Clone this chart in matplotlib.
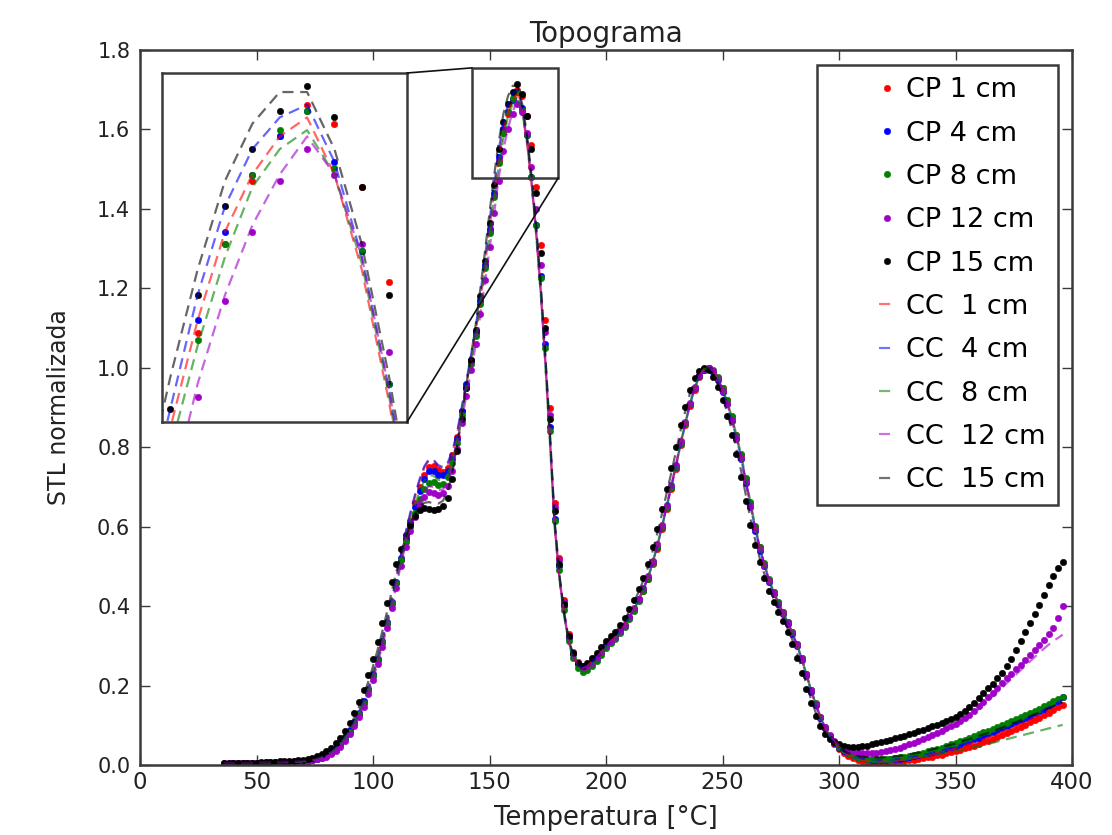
import numpy as np
import matplotlib
matplotlib.use("Agg")
import matplotlib.pyplot as plt
from matplotlib.patches import Rectangle, ConnectionPatch
from matplotlib.lines import Line2D
from matplotlib.legend_handler import HandlerLine2D

# Temperature sampling grid [°C]
temperatura = np.arange(36, 398, 2)

# Normalised TL signal, measured (CP) series
cp_1cm = [
    0.002, 0.003, 0.003, 0.004, 0.004, 0.004, 0.005, 0.005, 0.006, 0.006,
    0.006, 0.007, 0.007, 0.007, 0.008, 0.008, 0.009, 0.010, 0.011, 0.012,
    0.015, 0.019, 0.024, 0.031, 0.040, 0.052, 0.067, 0.085, 0.105, 0.129,
    0.156, 0.188, 0.224, 0.264, 0.308, 0.356, 0.406, 0.458, 0.515, 0.568,
    0.615, 0.660, 0.700, 0.730, 0.750, 0.752, 0.742, 0.738, 0.748, 0.780,
    0.825, 0.890, 0.955, 1.015, 1.085, 1.165, 1.255, 1.345, 1.435, 1.520,
    1.590, 1.640, 1.675, 1.700, 1.685, 1.635, 1.560, 1.455, 1.310, 1.120,
    0.900, 0.660, 0.520, 0.415, 0.330, 0.285, 0.260, 0.248, 0.252, 0.262,
    0.272, 0.287, 0.302, 0.312, 0.322, 0.337, 0.352, 0.372, 0.392, 0.417,
    0.438, 0.468, 0.505, 0.545, 0.595, 0.645, 0.695, 0.745, 0.805, 0.855,
    0.905, 0.945, 0.978, 0.995, 1.000, 0.992, 0.975, 0.948, 0.918, 0.875,
    0.830, 0.780, 0.720, 0.660, 0.600, 0.548, 0.505, 0.465, 0.435, 0.410,
    0.385, 0.360, 0.335, 0.305, 0.270, 0.230, 0.190, 0.152, 0.120, 0.092,
    0.070, 0.053, 0.040, 0.031, 0.023, 0.017, 0.012, 0.009, 0.007, 0.006,
    0.005, 0.005, 0.006, 0.007, 0.008, 0.009, 0.010, 0.012, 0.013, 0.015,
    0.017, 0.019, 0.021, 0.024, 0.026, 0.029, 0.032, 0.035, 0.038, 0.042,
    0.045, 0.049, 0.053, 0.057, 0.061, 0.066, 0.070, 0.075, 0.080, 0.085,
    0.090, 0.096, 0.101, 0.107, 0.113, 0.119, 0.125, 0.131, 0.138, 0.145,
    0.152,
]
cp_4cm = [
    0.003, 0.003, 0.004, 0.004, 0.004, 0.005, 0.005, 0.005, 0.005, 0.006,
    0.006, 0.006, 0.007, 0.007, 0.008, 0.008, 0.009, 0.010, 0.011, 0.013,
    0.016, 0.020, 0.026, 0.033, 0.043, 0.055, 0.070, 0.088, 0.108, 0.132,
    0.160, 0.192, 0.228, 0.268, 0.312, 0.360, 0.410, 0.460, 0.520, 0.570,
    0.610, 0.650, 0.690, 0.720, 0.740, 0.740, 0.730, 0.730, 0.740, 0.770,
    0.820, 0.890, 0.960, 1.020, 1.090, 1.170, 1.260, 1.350, 1.440, 1.530,
    1.600, 1.645, 1.675, 1.695, 1.655, 1.585, 1.480, 1.360, 1.230, 1.060,
    0.850, 0.620, 0.500, 0.400, 0.320, 0.280, 0.255, 0.245, 0.250, 0.260,
    0.270, 0.285, 0.300, 0.310, 0.320, 0.335, 0.350, 0.370, 0.390, 0.415,
    0.440, 0.470, 0.510, 0.550, 0.600, 0.650, 0.700, 0.750, 0.810, 0.860,
    0.910, 0.950, 0.980, 0.995, 1.000, 0.990, 0.970, 0.940, 0.910, 0.865,
    0.820, 0.770, 0.710, 0.650, 0.590, 0.540, 0.500, 0.460, 0.430, 0.405,
    0.380, 0.355, 0.330, 0.300, 0.265, 0.225, 0.185, 0.150, 0.118, 0.092,
    0.072, 0.056, 0.044, 0.036, 0.029, 0.024, 0.020, 0.017, 0.015, 0.013,
    0.012, 0.012, 0.013, 0.014, 0.015, 0.016, 0.018, 0.020, 0.022, 0.024,
    0.027, 0.030, 0.033, 0.036, 0.039, 0.042, 0.045, 0.049, 0.053, 0.057,
    0.061, 0.065, 0.069, 0.073, 0.078, 0.082, 0.087, 0.092, 0.097, 0.102,
    0.108, 0.113, 0.119, 0.124, 0.130, 0.136, 0.142, 0.148, 0.155, 0.162,
    0.170,
]
cp_8cm = [
    0.003, 0.003, 0.003, 0.004, 0.004, 0.004, 0.005, 0.005, 0.005, 0.005,
    0.006, 0.006, 0.006, 0.007, 0.007, 0.008, 0.008, 0.009, 0.010, 0.012,
    0.014, 0.018, 0.023, 0.030, 0.039, 0.051, 0.066, 0.084, 0.104, 0.128,
    0.156, 0.188, 0.225, 0.265, 0.310, 0.358, 0.408, 0.458, 0.515, 0.562,
    0.600, 0.635, 0.670, 0.695, 0.710, 0.712, 0.705, 0.708, 0.725, 0.760,
    0.810, 0.880, 0.950, 1.010, 1.080, 1.160, 1.250, 1.340, 1.430, 1.515,
    1.590, 1.645, 1.680, 1.695, 1.650, 1.585, 1.480, 1.360, 1.225, 1.050,
    0.840, 0.615, 0.490, 0.390, 0.312, 0.270, 0.245, 0.235, 0.238, 0.250,
    0.262, 0.278, 0.294, 0.306, 0.318, 0.332, 0.348, 0.368, 0.388, 0.412,
    0.438, 0.468, 0.508, 0.550, 0.598, 0.648, 0.698, 0.750, 0.808, 0.858,
    0.908, 0.948, 0.980, 0.996, 1.000, 0.995, 0.978, 0.950, 0.918, 0.878,
    0.832, 0.782, 0.722, 0.662, 0.602, 0.550, 0.508, 0.468, 0.436, 0.410,
    0.385, 0.360, 0.335, 0.305, 0.270, 0.230, 0.190, 0.155, 0.122, 0.095,
    0.074, 0.058, 0.046, 0.037, 0.030, 0.025, 0.021, 0.018, 0.016, 0.015,
    0.014, 0.014, 0.015, 0.016, 0.017, 0.019, 0.021, 0.023, 0.025, 0.028,
    0.031, 0.034, 0.037, 0.041, 0.044, 0.048, 0.052, 0.056, 0.060, 0.064,
    0.068, 0.073, 0.077, 0.082, 0.086, 0.091, 0.096, 0.101, 0.106, 0.111,
    0.116, 0.121, 0.126, 0.131, 0.137, 0.142, 0.148, 0.154, 0.160, 0.166,
    0.172,
]
cp_12cm = [
    0.004, 0.004, 0.004, 0.005, 0.005, 0.005, 0.006, 0.006, 0.006, 0.007,
    0.007, 0.007, 0.008, 0.008, 0.008, 0.009, 0.009, 0.010, 0.011, 0.012,
    0.014, 0.017, 0.021, 0.027, 0.035, 0.046, 0.060, 0.077, 0.097, 0.120,
    0.147, 0.178, 0.214, 0.254, 0.298, 0.345, 0.395, 0.445, 0.500, 0.548,
    0.590, 0.625, 0.655, 0.675, 0.688, 0.686, 0.680, 0.684, 0.702, 0.740,
    0.795, 0.860, 0.930, 0.995, 1.060, 1.135, 1.220, 1.305, 1.390, 1.470,
    1.545, 1.600, 1.640, 1.665, 1.645, 1.590, 1.505, 1.400, 1.260, 1.090,
    0.880, 0.650, 0.515, 0.410, 0.325, 0.282, 0.256, 0.244, 0.248, 0.258,
    0.270, 0.285, 0.300, 0.312, 0.322, 0.337, 0.353, 0.373, 0.394, 0.418,
    0.445, 0.476, 0.514, 0.556, 0.605, 0.655, 0.705, 0.756, 0.815, 0.864,
    0.912, 0.952, 0.982, 0.997, 1.000, 0.992, 0.972, 0.942, 0.910, 0.868,
    0.822, 0.772, 0.712, 0.652, 0.594, 0.544, 0.502, 0.464, 0.432, 0.406,
    0.382, 0.357, 0.332, 0.302, 0.268, 0.228, 0.189, 0.154, 0.122, 0.096,
    0.076, 0.061, 0.050, 0.042, 0.036, 0.032, 0.030, 0.029, 0.029, 0.030,
    0.031, 0.033, 0.035, 0.038, 0.041, 0.044, 0.048, 0.052, 0.056, 0.061,
    0.066, 0.071, 0.076, 0.081, 0.086, 0.092, 0.098, 0.104, 0.110, 0.118,
    0.127, 0.137, 0.148, 0.159, 0.171, 0.182, 0.194, 0.206, 0.218, 0.229,
    0.241, 0.253, 0.265, 0.277, 0.289, 0.302, 0.315, 0.330, 0.345, 0.370,
    0.400,
]
cp_15cm = [
    0.004, 0.004, 0.005, 0.005, 0.005, 0.006, 0.006, 0.006, 0.007, 0.007,
    0.008, 0.008, 0.009, 0.009, 0.010, 0.011, 0.012, 0.013, 0.015, 0.018,
    0.022, 0.027, 0.034, 0.043, 0.055, 0.069, 0.086, 0.106, 0.130, 0.158,
    0.190, 0.226, 0.266, 0.310, 0.358, 0.408, 0.460, 0.505, 0.545, 0.578,
    0.605, 0.628, 0.642, 0.648, 0.645, 0.642, 0.645, 0.652, 0.672, 0.720,
    0.790, 0.870, 0.950, 1.020, 1.095, 1.180, 1.270, 1.365, 1.460, 1.550,
    1.620, 1.665, 1.695, 1.715, 1.690, 1.635, 1.550, 1.440, 1.290, 1.100,
    0.870, 0.640, 0.505, 0.405, 0.325, 0.282, 0.258, 0.250, 0.258, 0.270,
    0.283, 0.298, 0.313, 0.324, 0.336, 0.352, 0.370, 0.392, 0.415, 0.442,
    0.470, 0.505, 0.548, 0.595, 0.645, 0.695, 0.748, 0.800, 0.855, 0.902,
    0.945, 0.975, 0.992, 1.000, 0.995, 0.978, 0.952, 0.918, 0.878, 0.832,
    0.782, 0.725, 0.665, 0.605, 0.555, 0.510, 0.470, 0.438, 0.410, 0.386,
    0.362, 0.335, 0.305, 0.270, 0.232, 0.192, 0.155, 0.123, 0.097, 0.078,
    0.066, 0.058, 0.052, 0.048, 0.046, 0.045, 0.045, 0.047, 0.049, 0.052,
    0.055, 0.058, 0.061, 0.064, 0.067, 0.070, 0.073, 0.077, 0.081, 0.085,
    0.089, 0.093, 0.097, 0.101, 0.105, 0.110, 0.115, 0.121, 0.128, 0.136,
    0.146, 0.157, 0.169, 0.181, 0.193, 0.205, 0.218, 0.231, 0.248, 0.268,
    0.290, 0.312, 0.335, 0.357, 0.380, 0.404, 0.428, 0.452, 0.475, 0.495,
    0.510,
]

# Normalised TL signal, computed (CC) series
cc_1cm = [
    0.003, 0.003, 0.004, 0.004, 0.004, 0.005, 0.005, 0.005, 0.006, 0.006,
    0.006, 0.007, 0.007, 0.008, 0.008, 0.009, 0.009, 0.010, 0.011, 0.013,
    0.016, 0.020, 0.025, 0.032, 0.041, 0.053, 0.068, 0.086, 0.106, 0.130,
    0.158, 0.190, 0.226, 0.266, 0.311, 0.360, 0.412, 0.466, 0.525, 0.580,
    0.630, 0.675, 0.715, 0.748, 0.768, 0.766, 0.752, 0.746, 0.755, 0.785,
    0.830, 0.892, 0.958, 1.020, 1.088, 1.165, 1.255, 1.350, 1.445, 1.530,
    1.600, 1.645, 1.675, 1.690, 1.645, 1.570, 1.465, 1.340, 1.190, 1.010,
    0.810, 0.600, 0.470, 0.380, 0.310, 0.272, 0.252, 0.245, 0.250, 0.260,
    0.271, 0.285, 0.299, 0.311, 0.322, 0.336, 0.352, 0.372, 0.393, 0.417,
    0.442, 0.472, 0.510, 0.552, 0.600, 0.650, 0.700, 0.752, 0.808, 0.858,
    0.908, 0.948, 0.978, 0.995, 1.000, 0.993, 0.975, 0.945, 0.912, 0.870,
    0.825, 0.775, 0.715, 0.655, 0.598, 0.548, 0.505, 0.465, 0.433, 0.408,
    0.383, 0.358, 0.332, 0.302, 0.267, 0.227, 0.188, 0.152, 0.120, 0.093,
    0.072, 0.055, 0.042, 0.033, 0.026, 0.020, 0.016, 0.013, 0.011, 0.010,
    0.009, 0.009, 0.010, 0.011, 0.012, 0.013, 0.014, 0.016, 0.018, 0.020,
    0.022, 0.024, 0.027, 0.030, 0.033, 0.036, 0.039, 0.042, 0.046, 0.049,
    0.053, 0.057, 0.061, 0.065, 0.069, 0.074, 0.078, 0.083, 0.088, 0.093,
    0.098, 0.103, 0.108, 0.114, 0.119, 0.125, 0.131, 0.137, 0.143, 0.149,
    0.155,
]
cc_4cm = [
    0.003, 0.003, 0.003, 0.004, 0.004, 0.004, 0.005, 0.005, 0.005, 0.006,
    0.006, 0.006, 0.007, 0.007, 0.008, 0.008, 0.009, 0.010, 0.011, 0.013,
    0.016, 0.020, 0.026, 0.033, 0.043, 0.055, 0.070, 0.089, 0.110, 0.134,
    0.162, 0.194, 0.230, 0.271, 0.316, 0.366, 0.418, 0.472, 0.530, 0.585,
    0.635, 0.680, 0.720, 0.752, 0.770, 0.768, 0.755, 0.750, 0.760, 0.790,
    0.835, 0.898, 0.965, 1.030, 1.100, 1.180, 1.275, 1.370, 1.460, 1.550,
    1.620, 1.665, 1.690, 1.700, 1.655, 1.580, 1.475, 1.350, 1.200, 1.020,
    0.820, 0.605, 0.475, 0.382, 0.312, 0.273, 0.253, 0.246, 0.250, 0.260,
    0.270, 0.284, 0.298, 0.310, 0.321, 0.335, 0.351, 0.371, 0.392, 0.416,
    0.441, 0.471, 0.509, 0.551, 0.599, 0.649, 0.699, 0.751, 0.807, 0.857,
    0.907, 0.947, 0.978, 0.995, 1.000, 0.992, 0.973, 0.943, 0.910, 0.868,
    0.823, 0.773, 0.713, 0.653, 0.596, 0.546, 0.503, 0.463, 0.432, 0.407,
    0.382, 0.357, 0.331, 0.301, 0.266, 0.226, 0.187, 0.151, 0.119, 0.093,
    0.072, 0.056, 0.044, 0.035, 0.028, 0.023, 0.019, 0.016, 0.014, 0.013,
    0.012, 0.012, 0.012, 0.013, 0.014, 0.015, 0.017, 0.019, 0.021, 0.023,
    0.025, 0.028, 0.031, 0.034, 0.037, 0.040, 0.043, 0.047, 0.050, 0.054,
    0.058, 0.062, 0.066, 0.070, 0.075, 0.079, 0.084, 0.089, 0.094, 0.099,
    0.104, 0.110, 0.115, 0.121, 0.127, 0.133, 0.139, 0.145, 0.151, 0.158,
    0.165,
]
cc_8cm = [
    0.003, 0.003, 0.003, 0.004, 0.004, 0.004, 0.005, 0.005, 0.005, 0.006,
    0.006, 0.006, 0.007, 0.007, 0.007, 0.008, 0.008, 0.009, 0.010, 0.012,
    0.015, 0.019, 0.024, 0.031, 0.040, 0.052, 0.067, 0.085, 0.105, 0.129,
    0.157, 0.189, 0.225, 0.265, 0.309, 0.357, 0.407, 0.458, 0.513, 0.568,
    0.615, 0.655, 0.690, 0.715, 0.730, 0.728, 0.718, 0.716, 0.730, 0.765,
    0.815, 0.880, 0.948, 1.012, 1.080, 1.158, 1.245, 1.335, 1.428, 1.510,
    1.580, 1.635, 1.665, 1.680, 1.645, 1.575, 1.470, 1.335, 1.185, 1.005,
    0.805, 0.595, 0.468, 0.377, 0.306, 0.266, 0.244, 0.236, 0.240, 0.252,
    0.264, 0.279, 0.295, 0.307, 0.318, 0.333, 0.349, 0.369, 0.390, 0.414,
    0.440, 0.470, 0.509, 0.551, 0.599, 0.649, 0.700, 0.752, 0.809, 0.860,
    0.909, 0.949, 0.980, 0.996, 1.000, 0.994, 0.977, 0.948, 0.916, 0.876,
    0.831, 0.781, 0.721, 0.661, 0.602, 0.551, 0.508, 0.468, 0.436, 0.410,
    0.385, 0.360, 0.334, 0.304, 0.269, 0.229, 0.190, 0.154, 0.122, 0.095,
    0.073, 0.057, 0.045, 0.036, 0.029, 0.024, 0.020, 0.017, 0.015, 0.014,
    0.013, 0.013, 0.013, 0.014, 0.014, 0.015, 0.016, 0.017, 0.018, 0.020,
    0.021, 0.023, 0.025, 0.027, 0.029, 0.031, 0.033, 0.035, 0.037, 0.040,
    0.042, 0.045, 0.047, 0.050, 0.053, 0.056, 0.059, 0.062, 0.065, 0.068,
    0.071, 0.074, 0.077, 0.080, 0.083, 0.086, 0.089, 0.092, 0.095, 0.098,
    0.101,
]
cc_12cm = [
    0.004, 0.004, 0.004, 0.005, 0.005, 0.005, 0.006, 0.006, 0.006, 0.007,
    0.007, 0.007, 0.008, 0.008, 0.008, 0.009, 0.009, 0.010, 0.011, 0.012,
    0.014, 0.017, 0.022, 0.028, 0.036, 0.047, 0.061, 0.078, 0.098, 0.121,
    0.148, 0.180, 0.216, 0.256, 0.300, 0.348, 0.398, 0.450, 0.505, 0.556,
    0.600, 0.635, 0.665, 0.690, 0.702, 0.700, 0.692, 0.694, 0.710, 0.748,
    0.800, 0.862, 0.928, 0.990, 1.055, 1.130, 1.212, 1.298, 1.390, 1.480,
    1.550, 1.605, 1.645, 1.675, 1.645, 1.580, 1.475, 1.345, 1.195, 1.015,
    0.815, 0.603, 0.473, 0.381, 0.311, 0.272, 0.251, 0.243, 0.247, 0.258,
    0.270, 0.284, 0.299, 0.311, 0.322, 0.336, 0.352, 0.372, 0.393, 0.417,
    0.443, 0.474, 0.512, 0.554, 0.603, 0.653, 0.703, 0.755, 0.812, 0.862,
    0.910, 0.950, 0.980, 0.996, 1.000, 0.993, 0.974, 0.944, 0.911, 0.869,
    0.824, 0.774, 0.714, 0.654, 0.596, 0.546, 0.503, 0.464, 0.432, 0.406,
    0.382, 0.357, 0.332, 0.302, 0.268, 0.228, 0.189, 0.154, 0.122, 0.096,
    0.076, 0.061, 0.050, 0.042, 0.036, 0.032, 0.030, 0.028, 0.027, 0.027,
    0.028, 0.030, 0.032, 0.035, 0.038, 0.041, 0.044, 0.048, 0.052, 0.057,
    0.062, 0.067, 0.072, 0.077, 0.082, 0.088, 0.094, 0.100, 0.107, 0.114,
    0.122, 0.131, 0.141, 0.151, 0.162, 0.173, 0.184, 0.195, 0.206, 0.217,
    0.228, 0.239, 0.250, 0.261, 0.272, 0.283, 0.293, 0.303, 0.312, 0.320,
    0.328,
]
cc_15cm = [
    0.004, 0.004, 0.004, 0.005, 0.005, 0.005, 0.006, 0.006, 0.006, 0.007,
    0.007, 0.008, 0.008, 0.009, 0.010, 0.010, 0.011, 0.012, 0.014, 0.016,
    0.019, 0.024, 0.030, 0.038, 0.049, 0.062, 0.078, 0.097, 0.120, 0.146,
    0.176, 0.210, 0.248, 0.290, 0.336, 0.385, 0.436, 0.486, 0.532, 0.572,
    0.605, 0.632, 0.650, 0.660, 0.662, 0.658, 0.658, 0.665, 0.688, 0.735,
    0.800, 0.876, 0.955, 1.028, 1.105, 1.195, 1.290, 1.390, 1.485, 1.570,
    1.640, 1.685, 1.710, 1.710, 1.665, 1.590, 1.485, 1.360, 1.210, 1.030,
    0.830, 0.612, 0.480, 0.386, 0.316, 0.277, 0.257, 0.250, 0.256, 0.268,
    0.280, 0.295, 0.310, 0.322, 0.334, 0.349, 0.366, 0.387, 0.410, 0.436,
    0.464, 0.497, 0.538, 0.583, 0.632, 0.683, 0.735, 0.788, 0.842, 0.890,
    0.935, 0.968, 0.990, 1.000, 0.997, 0.983, 0.958, 0.925, 0.888, 0.843,
    0.795, 0.740, 0.680, 0.620, 0.567, 0.520, 0.480, 0.446, 0.418, 0.393,
    0.369, 0.343, 0.315, 0.282, 0.244, 0.204, 0.166, 0.132, 0.104, 0.082,
    0.066, 0.053, 0.043, 0.036, 0.030, 0.026, 0.023, 0.021, 0.020, 0.019,
    0.019, 0.019, 0.020, 0.021, 0.022, 0.023, 0.025, 0.027, 0.029, 0.031,
    0.033, 0.036, 0.039, 0.042, 0.045, 0.048, 0.051, 0.054, 0.058, 0.062,
    0.065, 0.069, 0.073, 0.077, 0.081, 0.085, 0.090, 0.094, 0.099, 0.104,
    0.108, 0.113, 0.118, 0.123, 0.128, 0.133, 0.138, 0.143, 0.148, 0.153,
    0.158,
]

cp_series = [cp_1cm, cp_4cm, cp_8cm, cp_12cm, cp_15cm]
cc_series = [cc_1cm, cc_4cm, cc_8cm, cc_12cm, cc_15cm]
profundidades = ["1 cm", "4 cm", "8 cm", "12 cm", "15 cm"]
colores = ["#ff0000", "#0000ff", "#007f00", "#a000c8", "#000000"]

x_ticks = [0, 50, 100, 150, 200, 250, 300, 350, 400]
y_ticks = [0.0, 0.2, 0.4, 0.6, 0.8, 1.0, 1.2, 1.4, 1.6, 1.8]

W, H = 1112, 835
fig = plt.figure(figsize=(W / 100, H / 100), dpi=100)
ax = fig.add_axes([140 / W, 1 - 765 / H, 932 / W, 715 / H])

spine_col = "#3a3a3a"
txt_col = "#222222"


def dibujar(a, ms, lw):
    for vals, col, lab in zip(cp_series, colores, profundidades):
        a.plot(temperatura, vals, linestyle="none", marker="o", ms=ms,
               mfc=col, mec=col, mew=0.4, label="CP " + lab)
    for vals, col, lab in zip(cc_series, colores, profundidades):
        a.plot(temperatura, vals, linestyle="--", dashes=(5, 3), color=col,
               alpha=0.6, lw=lw, label="CC  " + lab)


dibujar(ax, 4.6, 1.6)

ax.set_xlim(0, 400)
ax.set_ylim(0, 1.8)
ax.set_xticks(x_ticks)
ax.set_yticks(y_ticks)
ax.set_yticklabels([f"{v:.1f}" for v in y_ticks])
ax.tick_params(direction="in", length=7, width=1, top=True, right=True,
               colors=spine_col, labelcolor=txt_col)
ax.tick_params(axis="y", labelsize=15, pad=7)
ax.tick_params(axis="x", labelsize=16.5, pad=4)
for s in ax.spines.values():
    s.set_color(spine_col)
    s.set_linewidth(1.8)

ax.set_title("Topograma", fontsize=20, color=txt_col, pad=6)
ax.set_xlabel("Temperatura [°C]", fontsize=18.5, color=txt_col)
ax.xaxis.set_label_coords(0.5, -0.056)
ax.set_ylabel("STL normalizada", fontsize=17, color=txt_col)
ax.yaxis.set_label_coords(-0.074, 0.5)

leg = ax.legend(loc="upper right", bbox_to_anchor=(0.985, 0.979),
                borderaxespad=0, fontsize=19.5, handlelength=2.45,
                handletextpad=0.4, labelspacing=0.64, borderpad=0.45,
                fancybox=False, framealpha=1,
                handler_map={Line2D: HandlerLine2D(numpoints=1, xpad=1.85)})
leg.get_frame().set_edgecolor(spine_col)
leg.get_frame().set_linewidth(1.8)
for h in leg.legend_handles:
    h.set_alpha(0.55 if h.get_linestyle() == "--" else 1)

# Zoomed view of the main peak
ins = fig.add_axes([162 / W, 1 - 422 / H, 245 / W, 349 / H])
dibujar(ins, 4.6, 1.6)
ins.set_xlim(151.4, 169.3)
ins.set_ylim(1.45, 1.725)
ins.set_xticks([])
ins.set_yticks([])
for s in ins.spines.values():
    s.set_color(spine_col)
    s.set_linewidth(1.8)

rx0, rx1, ry0, ry1 = 142.5, 179.5, 1.478, 1.755
ax.add_patch(Rectangle((rx0, ry0), rx1 - rx0, ry1 - ry0, fill=False,
                       edgecolor=spine_col, lw=1.8, zorder=5))
for pa, pb in [((1, 1), (rx0, ry1)), ((1, 0), (rx1, ry0))]:
    con = ConnectionPatch(xyA=pa, coordsA=ins.transAxes, xyB=pb,
                          coordsB=ax.transData, color="#111111", lw=1.2)
    fig.add_artist(con)

fig.savefig("out.png", dpi=100, facecolor="white")
